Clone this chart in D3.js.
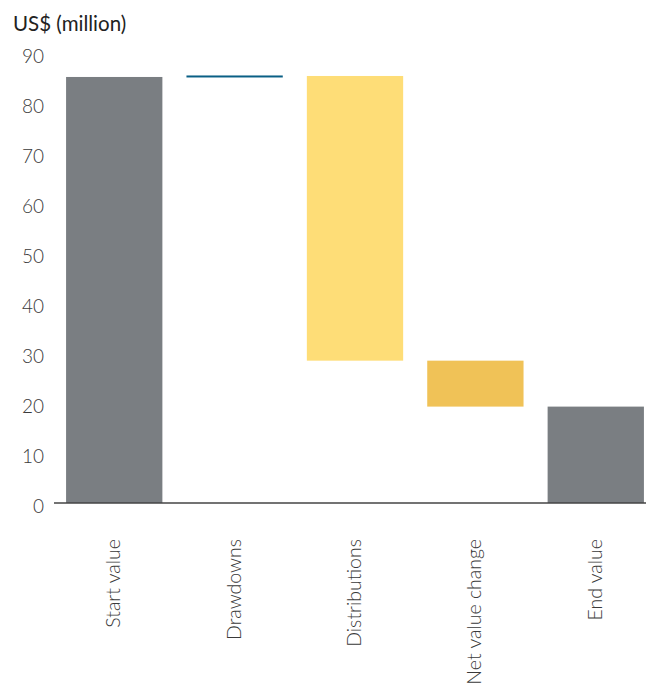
<!DOCTYPE html>
<html>
<head>
<meta charset="utf-8">
<script src="https://cdn.jsdelivr.net/npm/d3@7"></script>
<style>
  body { margin: 0; background: #fff; }
  .tick-label { font-family: Lato, "Open Sans", sans-serif; font-weight: 300; font-size: 19px; fill: #3a3a3a; }
  .cat-label { font-family: Lato, "Open Sans", sans-serif; font-weight: 300; font-size: 19.5px; fill: #3a3a3a; }
  .unit { font-family: Lato, "Open Sans", sans-serif; font-weight: 400; font-size: 20.5px; fill: #222; }
</style>
</head>
<body>
<div class="chart"></div>
<script>
// chart data
var categories = ["Start value", "Drawdowns", "Distributions", "Net value change", "End value"];
var changes = [85.3, 0.2, -57.0, -9.2, 19.3];
var kinds = ["total", "up", "down", "down", "total"];
var yTicks = [0, 10, 20, 30, 40, 50, 60, 70, 80, 90];

var colors = { total: "#7a7e82", up: "#0a5f85", down: "#fedd77" };
var downColors = ["#fedd77", "#f0c257"];

var svgWidth = 646;
var svgHeight = 686;

var svg = d3.select(".chart")
  .append("svg")
  .attr("width", svgWidth)
  .attr("height", svgHeight);

// running totals for the waterfall
var steps = [];
var running = 0;
var downCount = 0;
categories.forEach(function(c, i) {
  var start, end;
  if (kinds[i] == "total") {
    start = 0; end = changes[i]; running = end;
  } else {
    start = running; end = running + changes[i]; running = end;
  }
  var fill = colors[kinds[i]];
  if (kinds[i] == "down") { fill = downColors[downCount]; downCount++; }
  steps.push({ name: c, start: start, end: end, kind: kinds[i], fill: fill });
});

var x = d3.scaleBand()
  .domain(categories)
  .range([42, 668])
  .padding(0.2);

var y = d3.scaleLinear()
  .domain([0, 90])
  .range([503, 53.5]);

// bars
svg.selectAll("rect.bar")
  .data(steps)
  .enter()
  .append("rect")
  .attr("class", "bar")
  .attr("x", function(d) { return x(d.name); })
  .attr("width", x.bandwidth())
  .attr("y", function(d) {
    var top = y(Math.max(d.start, d.end));
    var h = Math.abs(y(d.start) - y(d.end));
    return h < 2 ? top - (2 - h) / 2 : top;
  })
  .attr("height", function(d) { return Math.max(2, Math.abs(y(d.start) - y(d.end))); })
  .attr("fill", function(d) { return d.fill; });

// baseline
svg.append("line")
  .attr("x1", 54)
  .attr("x2", 646)
  .attr("y1", y(0))
  .attr("y2", y(0))
  .attr("stroke", "#444")
  .attr("stroke-width", 1.5);

// y tick labels
svg.selectAll("text.tick-label")
  .data(yTicks)
  .enter()
  .append("text")
  .attr("class", "tick-label")
  .attr("x", 44)
  .attr("y", function(d) { return y(d) + 3; })
  .attr("dy", "0.35em")
  .attr("text-anchor", "end")
  .text(function(d) { return d; });

// category labels
svg.selectAll("text.cat-label")
  .data(categories)
  .enter()
  .append("text")
  .attr("class", "cat-label")
  .attr("transform", function(d) {
    return "translate(" + (x(d) + x.bandwidth() / 2 + 6) + ",539) rotate(-90)";
  })
  .attr("text-anchor", "end")
  .text(function(d) { return d; });

svg.append("text")
  .attr("class", "unit")
  .attr("x", 13)
  .attr("y", 31)
  .text("US$ (million)");
</script>
</body>
</html>
